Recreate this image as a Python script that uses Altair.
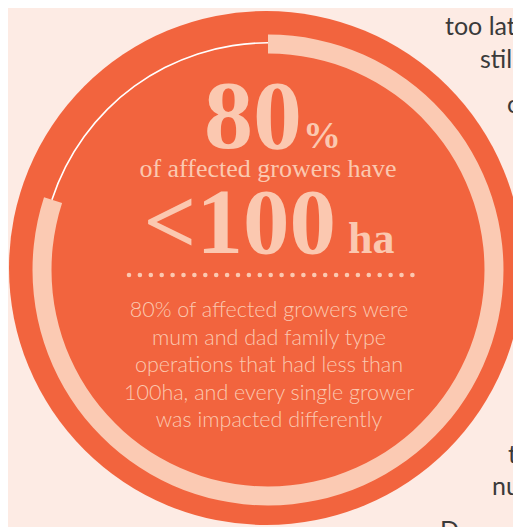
import altair as alt
import pandas as pd

# ---- data -------------------------------------------------------------
share_labels = ["<100ha", "100ha+"]
share_values = [80, 20]
share_order = [0, 1]

headline_big = "80"
headline_pct = "%"
headline_mid = "of affected growers have"
headline_size = "<100"
headline_unit = "ha"
body_lines = [
    "80% of affected growers were",
    "mum and dad family type",
    "operations that had less than",
    "100ha, and every single grower",
    "was impacted differently",
]
side_fragments = ["too late", "still", "c", "t", "nu", "D"]

# ---- styles -----------------------------------------------------------
BG = "#fdebe4"
ORANGE = "#f2643e"
PEACH = "#fbcab3"
PEACH_TXT = "#fbc8b0"
DARK = "#3a3a3a"
SERIF = "Liberation Serif"
SANS = "Lato"

W, H = 505, 519
CX, CY = 260, 262  # ring centre (chart coords)

share_df = pd.DataFrame({"label": share_labels, "value": share_values, "idx": share_order})
one = pd.DataFrame({"k": [1]})

# vega circle symbol: radius = sqrt(size) / 2
backdrop = alt.Chart(one).mark_circle(
    color=ORANGE, opacity=1, size=(2 * 257) ** 2
).encode(x=alt.value(258), y=alt.value(260))

theta = alt.Theta("value:Q", stack=True)
order = alt.Order("idx:Q")

ring = alt.Chart(share_df).mark_arc(radius=235.5, radius2=216.5, color=PEACH).encode(
    theta=theta,
    order=order,
    x=alt.value(CX),
    y=alt.value(CY),
    opacity=alt.condition(alt.datum.label == share_labels[0], alt.value(1), alt.value(0)),
)

thin = alt.Chart(share_df).mark_arc(radius=228, radius2=226.4, color="white").encode(
    theta=theta,
    order=order,
    x=alt.value(CX),
    y=alt.value(CY),
    opacity=alt.condition(alt.datum.label == share_labels[1], alt.value(1), alt.value(0)),
)


def label(txt, x, y, size, font, color, align="center", weight="normal", **kw):
    return alt.Chart(pd.DataFrame({"t": [txt]})).mark_text(
        align=align, baseline="alphabetic", font=font, fontSize=size,
        fontWeight=weight, color=color, **kw
    ).encode(text="t:N", x=alt.value(x), y=alt.value(y))


t80 = label(headline_big, 294, 140, 98, SERIF, PEACH_TXT, align="right", weight="bold")
tpct = label(headline_pct, 295, 140, 38, SERIF, PEACH_TXT, align="left", weight="bold")
tmid = label(headline_mid, 260, 169, 26, SERIF, PEACH_TXT)
t100 = label(headline_size, 328, 245, 93, SERIF, PEACH_TXT, align="right", weight="bold")
tha = label(headline_unit, 340, 245, 44, SERIF, PEACH_TXT, align="left", weight="bold")

dots = alt.Chart(one).mark_rule(
    color=PEACH_TXT, strokeWidth=4.6, strokeCap="round", strokeDash=[0, 10.9]
).encode(x=alt.value(121), x2=alt.value(405.5), y=alt.value(267))

body = alt.Chart(pd.DataFrame({"t": ["\n".join(body_lines)]})).mark_text(
    align="center", baseline="alphabetic", font=SANS, fontSize=21.5, fontWeight=300,
    color=PEACH_TXT, lineBreak="\n", lineHeight=27.5
).encode(text="t:N", x=alt.value(261), y=alt.value(309))

side_pos = [(437, 27), (472, 60), (499, 105), (500, 455), (484, 487), (432, 531)]
sides = [
    label(s, px, py, 25, SANS, DARK, align="left")
    for s, (px, py) in zip(side_fragments, side_pos)
]

chart = alt.layer(
    backdrop, ring, thin, t80, tpct, tmid, t100, tha, dots, body, *sides
).properties(
    width=W, height=H, background=BG, padding=0,
    autosize=alt.AutoSizeParams(type="none"),
).configure_view(stroke=None)

chart.save("out.html", embed_options={"renderer": "svg", "actions": False})
